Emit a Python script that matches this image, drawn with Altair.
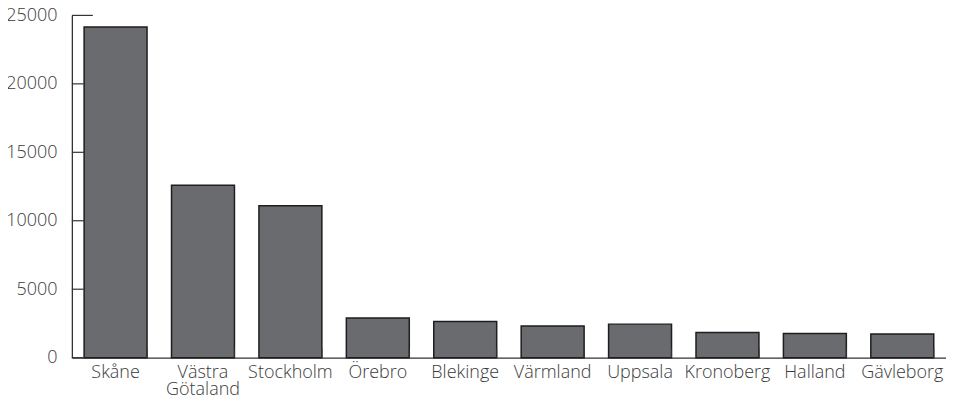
import altair as alt
import pandas as pd

regions = ["Skåne", "Västra Götaland", "Stockholm", "Örebro", "Blekinge",
           "Värmland", "Uppsala", "Kronoberg", "Halland", "Gävleborg"]
values = [24150, 12600, 11100, 2890, 2650, 2310, 2450, 1845, 1770, 1730]
y_ticks = [0, 5000, 10000, 15000, 20000, 25000]

df = pd.DataFrame({"region": regions, "value": values})
ticks_df = pd.DataFrame({"tick": y_ticks[:-1]})
top_df = pd.DataFrame({"tick": y_ticks[-1:]})

W, H = 876, 343

yscale = alt.Scale(domain=[0, 25000], nice=False)

bars = alt.Chart(df).mark_bar(
    fill="#6a6b6f", stroke="#1e1e1e", strokeWidth=1.5
).encode(
    x=alt.X("region:N", sort=regions, title=None,
            scale=alt.Scale(paddingInner=0.28, paddingOuter=0.14),
            axis=alt.Axis(labelAngle=0, labelPadding=6, labelLineHeight=17,
                          labelOverlap=False, labelLimit=200,
                          labelExpr="datum.label == 'Västra Götaland' ? ['Västra', 'Götaland'] : datum.label")),
    y=alt.Y("value:Q", scale=yscale, title=None,
            axis=alt.Axis(values=y_ticks, labelPadding=15, format="d")),
)

xticks = alt.Chart(df).mark_rule(color="#333333", strokeWidth=1).encode(
    x=alt.X("region:N", sort=regions, bandPosition=1, title=None),
    y=alt.value(H - 9),
    y2=alt.value(H),
)

yticks = alt.Chart(ticks_df).mark_rule(color="#333333", strokeWidth=1.2).encode(
    y=alt.Y("tick:Q", scale=yscale, title=None),
    x=alt.value(0),
    x2=alt.value(12),
)

ytop = alt.Chart(top_df).mark_rule(color="#333333", strokeWidth=1.2).encode(
    y=alt.Y("tick:Q", scale=yscale, title=None),
    x=alt.value(0),
    x2=alt.value(21),
)

chart = alt.layer(bars, xticks, yticks, ytop).properties(
    width=W, height=H,
    autosize="none",
    padding={"left": 64, "top": 7, "right": 0, "bottom": 38},
).configure_view(stroke=None).configure_axis(
    labelFont="Open Sans", labelFontSize=18, labelFontWeight=300, labelColor="#3a3a3a",
    domainColor="#333333", domainWidth=1.3, ticks=False, tickSize=0, grid=False,
)

chart.save("out.html", embed_options={"renderer": "svg", "actions": False})
